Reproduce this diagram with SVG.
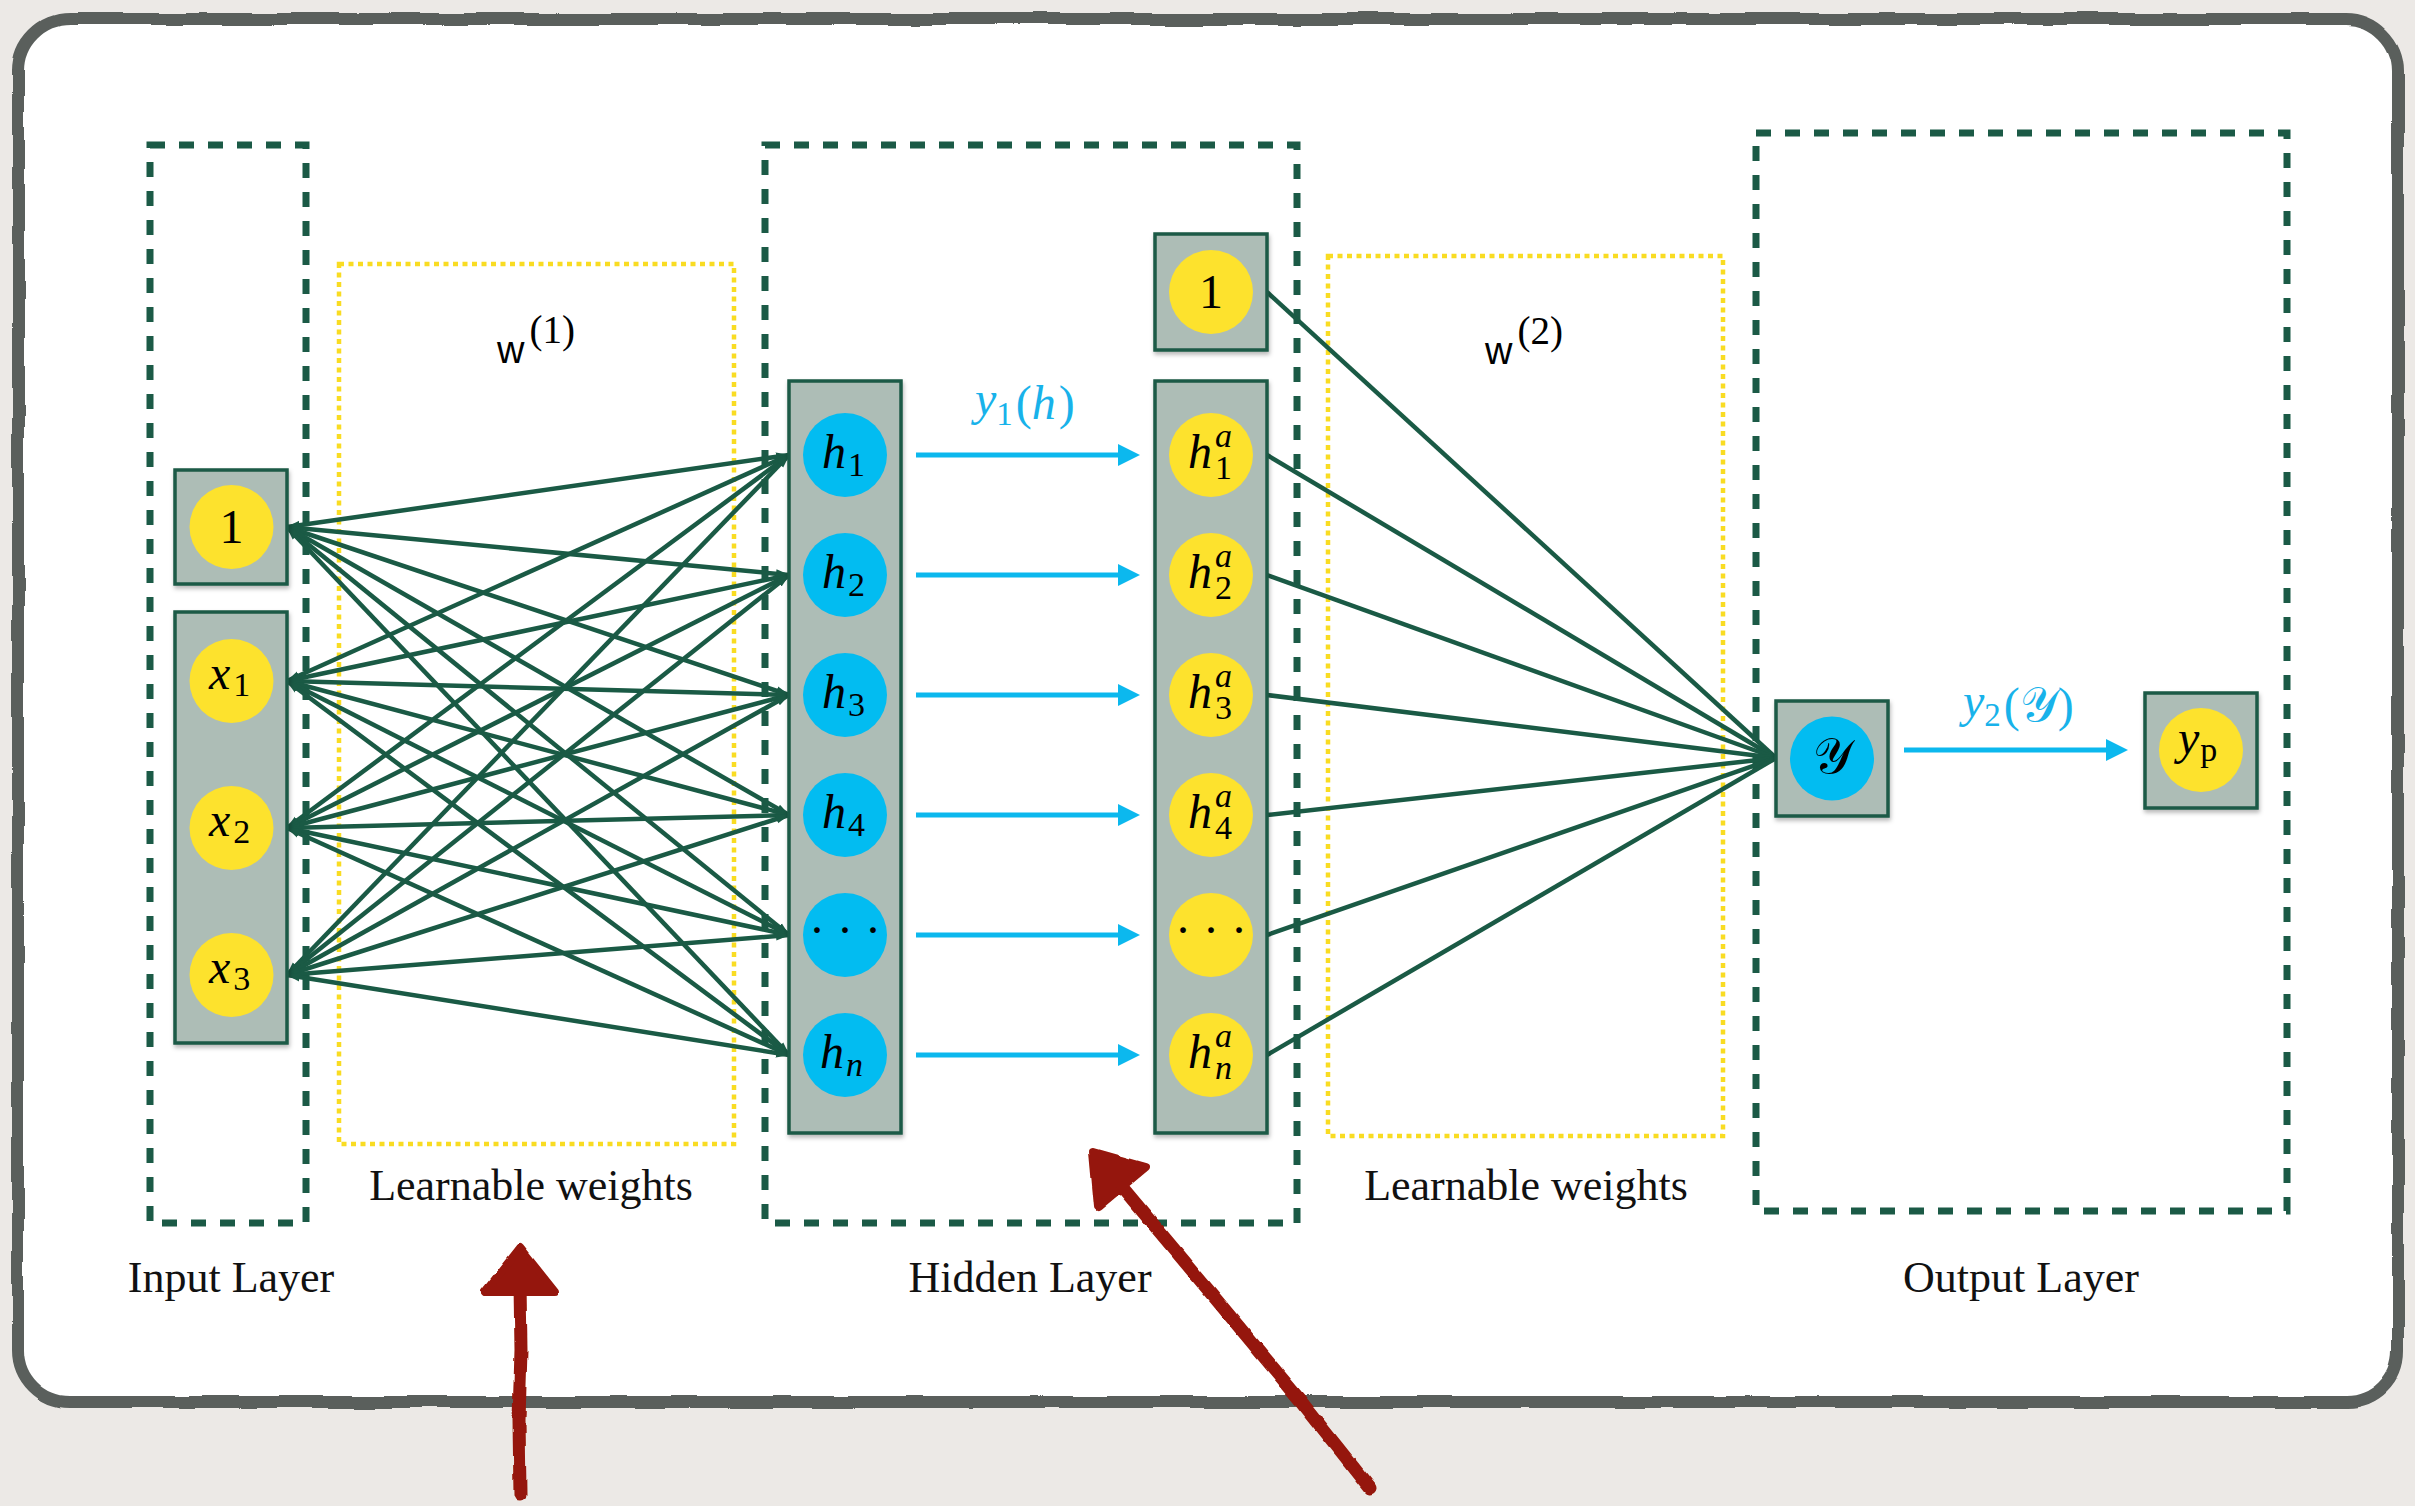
<svg xmlns="http://www.w3.org/2000/svg" width="2415" height="1506" viewBox="0 0 2415 1506">
  <defs>
    <style>
      .layer { fill: none; stroke: #1b5a46; stroke-width: 7; stroke-dasharray: 15 14; }
      .wbox { fill: none; stroke: #f9dc22; stroke-width: 4.5; stroke-dasharray: 5 4.5; }
      .col { fill: #adbdb6; stroke: #1e5a46; stroke-width: 3.5; }
      .yel { fill: #fde22d; }
      .blu { fill: #02bcf1; }
      .edge { fill: none; stroke: #1a5a45; stroke-width: 4.5; }
      .flow { fill: none; stroke: #0cb8ee; stroke-width: 5; }
      .lbl { font-family: "Liberation Serif", serif; font-size: 44px; fill: #111; text-anchor: middle; }
      .num { font-family: "Liberation Serif", serif; font-size: 48px; fill: #000; text-anchor: middle; }
      .mi { font-family: "Liberation Serif", serif; font-style: italic; font-size: 48px; fill: #000; }
      .sub { font-family: "Liberation Serif", serif; font-size: 34px; fill: #000; }
      .subi { font-family: "Liberation Serif", serif; font-style: italic; font-size: 34px; fill: #000; }
      .fn { font-family: "Liberation Serif", serif; font-size: 48px; fill: #18b2ea; }
      .wl { font-family: "Liberation Sans", sans-serif; font-size: 38px; fill: #000; }
      .ws { font-family: "Liberation Serif", serif; font-size: 39px; fill: #000; }
      .red { fill: #951508; stroke: #951508; stroke-linejoin: round; stroke-linecap: round; }
    </style>
    <marker id="tip" viewBox="0 0 14 10" refX="13" refY="5" markerWidth="14" markerHeight="10" markerUnits="userSpaceOnUse" orient="auto-start-reverse">
      <path d="M0,0.5 L14,5 L0,9.5 z" fill="#1a5a45"/>
    </marker>
    <marker id="flowtip" viewBox="0 0 22 22" refX="7" refY="11" markerWidth="22" markerHeight="22" markerUnits="userSpaceOnUse" orient="auto">
      <path d="M0,0 L22,11 L0,22 z" fill="#0cb8ee"/>
    </marker>
    <filter id="shadow" x="-10%" y="-10%" width="130%" height="130%">
      <feDropShadow dx="1" dy="3" stdDeviation="2" flood-color="#000" flood-opacity="0.28"/>
    </filter>
    <filter id="rough" x="-5%" y="-5%" width="110%" height="110%">
      <feTurbulence type="fractalNoise" baseFrequency="0.015" numOctaves="2" seed="4" result="n"/>
      <feDisplacementMap in="SourceGraphic" in2="n" scale="6" xChannelSelector="R" yChannelSelector="G"/>
    </filter>
    <filter id="ink" x="-10%" y="-10%" width="120%" height="120%">
      <feTurbulence type="fractalNoise" baseFrequency="0.05" numOctaves="2" seed="9" result="n"/>
      <feDisplacementMap in="SourceGraphic" in2="n" scale="4" xChannelSelector="R" yChannelSelector="G"/>
    </filter>
  </defs>

  <!-- paper background -->
  <rect x="0" y="0" width="2415" height="1506" fill="#ece9e6"/>

  <!-- card frame -->
  <g id="frame">
    <rect x="21" y="24" width="2380" height="1383" rx="52" fill="#b9b8b5" opacity="0.5" filter="url(#rough)"/>
    <rect x="18" y="19" width="2380" height="1383" rx="52" fill="#ffffff" stroke="#5a5f5c" stroke-width="12" filter="url(#rough)"/>
  </g>

  <!-- layer and weight regions -->
  <g id="regions">
    <rect id="input-layer" class="layer" x="150" y="145" width="156" height="1078"/>
    <rect id="hidden-layer" class="layer" x="765" y="145" width="532" height="1078"/>
    <rect id="output-layer" class="layer" x="1756" y="133" width="531" height="1078"/>
    <rect id="weights-1" class="wbox" x="339" y="264" width="395" height="880"/>
    <rect id="weights-2" class="wbox" x="1328" y="256" width="395" height="880"/>
  </g>

  <!-- connectors -->
  <g id="connectors">
    <g id="w1-edges" class="edge" marker-start="url(#tip)" marker-end="url(#tip)">
      <line x1="287" y1="527" x2="789" y2="455"/>
      <line x1="287" y1="527" x2="789" y2="575"/>
      <line x1="287" y1="527" x2="789" y2="695"/>
      <line x1="287" y1="527" x2="789" y2="815"/>
      <line x1="287" y1="527" x2="789" y2="935"/>
      <line x1="287" y1="527" x2="789" y2="1055"/>
      <line x1="287" y1="681" x2="789" y2="455"/>
      <line x1="287" y1="681" x2="789" y2="575"/>
      <line x1="287" y1="681" x2="789" y2="695"/>
      <line x1="287" y1="681" x2="789" y2="815"/>
      <line x1="287" y1="681" x2="789" y2="935"/>
      <line x1="287" y1="681" x2="789" y2="1055"/>
      <line x1="287" y1="828" x2="789" y2="455"/>
      <line x1="287" y1="828" x2="789" y2="575"/>
      <line x1="287" y1="828" x2="789" y2="695"/>
      <line x1="287" y1="828" x2="789" y2="815"/>
      <line x1="287" y1="828" x2="789" y2="935"/>
      <line x1="287" y1="828" x2="789" y2="1055"/>
      <line x1="287" y1="975" x2="789" y2="455"/>
      <line x1="287" y1="975" x2="789" y2="575"/>
      <line x1="287" y1="975" x2="789" y2="695"/>
      <line x1="287" y1="975" x2="789" y2="815"/>
      <line x1="287" y1="975" x2="789" y2="935"/>
      <line x1="287" y1="975" x2="789" y2="1055"/>
    </g>
    <g id="w2-edges" class="edge">
      <line x1="1267" y1="292" x2="1776" y2="758"/>
      <line x1="1267" y1="455" x2="1776" y2="758"/>
      <line x1="1267" y1="575" x2="1776" y2="758"/>
      <line x1="1267" y1="695" x2="1776" y2="758"/>
      <line x1="1267" y1="815" x2="1776" y2="758"/>
      <line x1="1267" y1="935" x2="1776" y2="758"/>
      <line x1="1267" y1="1055" x2="1776" y2="758"/>
    </g>
    <g id="activation-arrows" class="flow" marker-end="url(#flowtip)">
      <line x1="916" y1="455" x2="1125" y2="455"/>
      <line x1="916" y1="575" x2="1125" y2="575"/>
      <line x1="916" y1="695" x2="1125" y2="695"/>
      <line x1="916" y1="815" x2="1125" y2="815"/>
      <line x1="916" y1="935" x2="1125" y2="935"/>
      <line x1="916" y1="1055" x2="1125" y2="1055"/>
      <line x1="1904" y1="750" x2="2113" y2="750"/>
    </g>
  </g>

  <!-- input layer -->
  <g id="input-bias">
    <rect class="col" x="175" y="470" width="112" height="114" filter="url(#shadow)"/>
    <circle class="yel" cx="231.5" cy="527" r="42"/>
    <text class="num" x="231.5" y="543">1</text>
  </g>
  <g id="input-x">
    <rect class="col" x="175" y="612" width="112" height="431" filter="url(#shadow)"/>
    <circle class="yel" cx="231.5" cy="681" r="42"/>
    <text x="209" y="689"><tspan class="mi">x</tspan><tspan class="sub" dx="3" dy="7">1</tspan></text>
    <circle class="yel" cx="231.5" cy="828" r="42"/>
    <text x="209" y="836"><tspan class="mi">x</tspan><tspan class="sub" dx="3" dy="7">2</tspan></text>
    <circle class="yel" cx="231.5" cy="975" r="42"/>
    <text x="209" y="983"><tspan class="mi">x</tspan><tspan class="sub" dx="3" dy="7">3</tspan></text>
  </g>

  <!-- hidden pre-activation units -->
  <g id="hidden-h">
    <rect class="col" x="789" y="381" width="112" height="752" filter="url(#shadow)"/>
    <circle class="blu" cx="845" cy="455" r="42"/>
    <text x="822" y="468"><tspan class="mi">h</tspan><tspan class="sub" dx="2" dy="8">1</tspan></text>
    <circle class="blu" cx="845" cy="575" r="42"/>
    <text x="822" y="588"><tspan class="mi">h</tspan><tspan class="sub" dx="2" dy="8">2</tspan></text>
    <circle class="blu" cx="845" cy="695" r="42"/>
    <text x="822" y="708"><tspan class="mi">h</tspan><tspan class="sub" dx="2" dy="8">3</tspan></text>
    <circle class="blu" cx="845" cy="815" r="42"/>
    <text x="822" y="828"><tspan class="mi">h</tspan><tspan class="sub" dx="2" dy="8">4</tspan></text>
    <circle class="blu" cx="845" cy="935" r="42"/>
    <text class="num" x="845" y="946">· · ·</text>
    <circle class="blu" cx="845" cy="1055" r="42"/>
    <text x="820" y="1068"><tspan class="mi">h</tspan><tspan class="subi" dx="2" dy="8">n</tspan></text>
  </g>

  <!-- hidden bias -->
  <g id="hidden-bias">
    <rect class="col" x="1155" y="234" width="112" height="116" filter="url(#shadow)"/>
    <circle class="yel" cx="1211" cy="292" r="42"/>
    <text class="num" x="1211" y="308">1</text>
  </g>

  <!-- hidden activated units: h with stacked superscript a and index -->
  <g id="hidden-ha">
    <rect class="col" x="1155" y="381" width="112" height="752" filter="url(#shadow)"/>
    <circle class="yel" cx="1211" cy="455" r="42"/>
    <text x="1188" y="468"><tspan class="mi">h</tspan><tspan class="subi" dx="3" dy="-21">a</tspan><tspan class="sub" dx="-17" dy="32">1</tspan></text>
    <circle class="yel" cx="1211" cy="575" r="42"/>
    <text x="1188" y="588"><tspan class="mi">h</tspan><tspan class="subi" dx="3" dy="-21">a</tspan><tspan class="sub" dx="-17" dy="32">2</tspan></text>
    <circle class="yel" cx="1211" cy="695" r="42"/>
    <text x="1188" y="708"><tspan class="mi">h</tspan><tspan class="subi" dx="3" dy="-21">a</tspan><tspan class="sub" dx="-17" dy="32">3</tspan></text>
    <circle class="yel" cx="1211" cy="815" r="42"/>
    <text x="1188" y="828"><tspan class="mi">h</tspan><tspan class="subi" dx="3" dy="-21">a</tspan><tspan class="sub" dx="-17" dy="32">4</tspan></text>
    <circle class="yel" cx="1211" cy="935" r="42"/>
    <text class="num" x="1211" y="946">· · ·</text>
    <circle class="yel" cx="1211" cy="1055" r="42"/>
    <text x="1188" y="1068"><tspan class="mi">h</tspan><tspan class="subi" dx="3" dy="-21">a</tspan><tspan class="subi" dx="-17" dy="32">n</tspan></text>
  </g>

  <!-- output layer -->
  <g id="output-sum">
    <rect class="col" x="1776" y="701" width="112" height="115" filter="url(#shadow)"/>
    <circle class="blu" cx="1832" cy="758.5" r="42"/>
    <text x="1832" y="773" text-anchor="middle" font-family="'DejaVu Serif', 'DejaVu Sans', serif" font-size="50" fill="#000">𝒴</text>
  </g>
  <g id="output-pred">
    <rect class="col" x="2145" y="693" width="112" height="115" filter="url(#shadow)"/>
    <circle class="yel" cx="2201" cy="750" r="42"/>
    <text x="2178" y="754"><tspan class="mi" font-size="44">y</tspan><tspan class="sub" font-size="32" dx="1" dy="7">p</tspan></text>
  </g>

  <!-- activation function labels -->
  <g id="fn-labels">
    <text class="fn" x="975" y="415"><tspan font-style="italic">y</tspan><tspan font-size="33" dy="10">1</tspan><tspan dx="3" dy="-6">(</tspan><tspan font-style="italic">h</tspan><tspan dx="3">)</tspan></text>
    <text class="fn" x="1963" y="717"><tspan font-style="italic">y</tspan><tspan font-size="33" dy="9">2</tspan><tspan dx="3" dy="-5">(</tspan><tspan font-family="'DejaVu Serif', 'DejaVu Sans', serif">𝒴</tspan><tspan>)</tspan></text>
  </g>

  <!-- weight labels -->
  <g id="weight-labels">
    <text x="497" y="363"><tspan class="wl">w</tspan><tspan class="ws" dx="5" dy="-20">(1)</tspan></text>
    <text x="1485" y="364"><tspan class="wl">w</tspan><tspan class="ws" dx="5" dy="-20">(2)</tspan></text>
  </g>

  <!-- captions -->
  <g id="captions">
    <text class="lbl" x="531" y="1200">Learnable weights</text>
    <text class="lbl" x="1526" y="1200">Learnable weights</text>
    <text class="lbl" x="231" y="1292">Input Layer</text>
    <text class="lbl" x="1030" y="1292">Hidden Layer</text>
    <text class="lbl" x="2021" y="1292">Output Layer</text>
  </g>

  <!-- hand-drawn pointers -->
  <g id="pointers" filter="url(#ink)">
    <path class="red" d="M520,1494 L519,1420 L521,1350 L520,1285" fill="none" stroke-width="13"/>
    <path class="red" d="M520,1248 L485,1292 L555,1292 z" stroke-width="8"/>
    <path class="red" d="M1370,1488 L1300,1400 L1210,1292 L1122,1187" fill="none" stroke-width="13"/>
    <path class="red" d="M1093,1152 L1146,1167 L1098,1207 z" stroke-width="8"/>
  </g>
</svg>
